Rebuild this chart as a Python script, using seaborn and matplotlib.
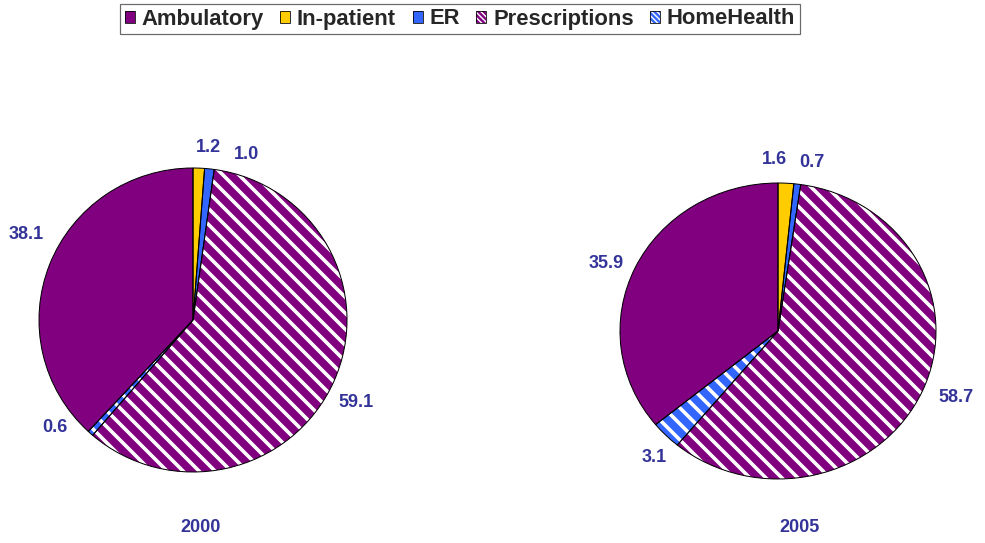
import matplotlib
matplotlib.use("Agg")
import numpy as np
import matplotlib.pyplot as plt
from matplotlib.patches import Patch
import seaborn as sns

# data (percent of spending)
categories = ['Ambulatory', 'In-patient', 'ER', 'Prescriptions', 'HomeHealth']
values_2000 = [38.1, 1.2, 1.0, 59.1, 0.6]
values_2005 = [35.9, 1.6, 0.7, 58.7, 3.1]
years = ['2000', '2005']

# low dpi so the hatch stripes come out as dense as in the excel chart
DPI = 48
PT = 72 / DPI  # points per pixel

sns.set_style('white')
plt.rcParams['font.family'] = ['Liberation Sans', 'DejaVu Sans']
plt.rcParams['hatch.linewidth'] = 3.6 * PT

palette = sns.color_palette(['#800080', '#FFCC00', '#3366FF', '#800080', '#3366FF'])
hatches = ['', '', '', '\\', '\\']
label_color = '#333399'

# excel draws clockwise from 12 o'clock starting with In-patient
order = [1, 2, 3, 4, 0]

# label placement tweaks (category order): radial distance and angle nudge in degrees
label_dist = {'2000': [1.22, 1.14, 1.14, 1.19, 1.14],
              '2005': [1.18, 1.16, 1.16, 1.21, 1.16]}
label_nudge = {'2000': [-6, -3, -11.5, -3, -10],
               '2005': [2.5, 4, -3.7, 2.2, 2.7]}

fig = plt.figure(figsize=(985 / DPI, 543 / DPI), dpi=DPI)

# axes boxes in pixels: (left, top, width, height)
boxes = [(39, 168, 308, 304), (620, 183, 316, 296)]


def draw_pie(box, values, year, year_x):
    l, t, w, h = box
    ax = fig.add_axes([l / 985, 1 - (t + h) / 543, w / 985, h / 543])
    vals = [values[i] for i in order]
    cols = [palette[i] for i in order]
    hts = [hatches[i] for i in order]
    wedges, _ = ax.pie(vals, colors=cols, startangle=90, counterclock=False,
                       wedgeprops=dict(edgecolor='white', linewidth=0))
    for wdg, hh in zip(wedges, hts):
        if hh:
            wdg.set_hatch(hh)
    # outline on top so the edges stay black while hatches are white
    ax.pie(vals, colors=['none'] * len(vals), startangle=90, counterclock=False,
           wedgeprops=dict(edgecolor='black', linewidth=1 * PT, fill=False))
    for k, i in enumerate(order):
        wdg = wedges[k]
        mid = np.deg2rad((wdg.theta1 + wdg.theta2) / 2 + label_nudge[year][i])
        d = label_dist[year][i]
        ax.text(d * np.cos(mid), d * np.sin(mid), '%.1f' % values[i],
                ha='center', va='center', color=label_color,
                fontsize=18 * PT, fontweight='bold', clip_on=False)
    ax.set_aspect('auto')
    ax.set_xlim(-1, 1)
    ax.set_ylim(-1, 1)
    fig.text(year_x / 985, 1 - 527 / 543, year, ha='center', va='center',
             color=label_color, fontsize=18 * PT, fontweight='bold')


draw_pie(boxes[0], values_2000, years[0], 201)
draw_pie(boxes[1], values_2005, years[1], 800)

with plt.rc_context({'hatch.linewidth': 1.4 * PT}):
    handles = []
    for i, c in enumerate(categories):
        hh = '\\\\\\' if hatches[i] else ''
        handles.append((Patch(facecolor=palette[i], hatch=hh, edgecolor='white', linewidth=0),
                        Patch(facecolor='none', edgecolor='black', linewidth=0.8 * PT)))
    leg = fig.legend(handles, categories, loc='center', bbox_to_anchor=(460 / 985, 1 - 19 / 543),
                     ncol=5, prop=dict(weight='bold', size=22 * PT),
                     handlelength=0.46, handleheight=0.46, handletextpad=0.3,
                     columnspacing=0.75, borderpad=0.2, fancybox=False, frameon=True)
leg.get_frame().set_edgecolor('#444444')
leg.get_frame().set_linewidth(1.2 * PT)

fig.savefig('out.png', dpi=DPI, facecolor='white')
